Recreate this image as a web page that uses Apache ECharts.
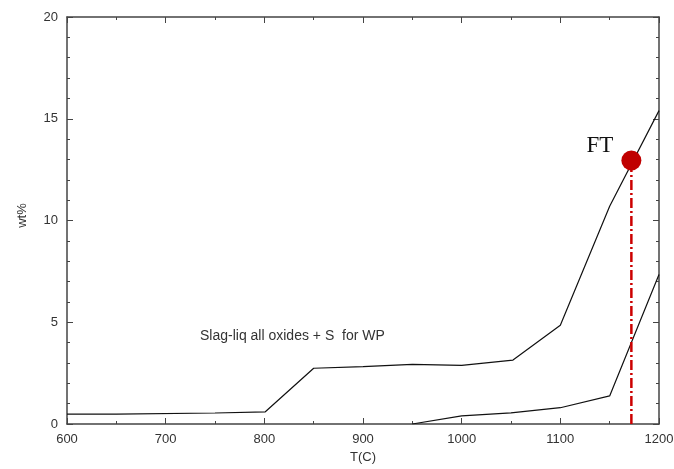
<!DOCTYPE html>
<html>
<head>
<meta charset="utf-8">
<script src="https://cdn.jsdelivr.net/npm/echarts@6/dist/echarts.min.js"></script>
<style>html,body{margin:0;padding:0;background:#fff}#c{width:674px;height:469px}</style>
</head>
<body>
<div id="c"></div>
<script>
const upperT = [600, 650, 650, 750, 750, 801, 850, 900, 950, 1000, 1052, 1100, 1150, 1200];
const upperWt = [0.49, 0.49, 0.54, 0.54, 0.6, 0.6, 2.74, 2.82, 2.93, 2.88, 3.14, 4.85, 10.7, 15.4];
const lowerT = [950, 1000, 1050, 1100, 1150, 1200];
const lowerWt = [0.0, 0.4, 0.55, 0.8, 1.38, 7.35];
const ftPoint = [1172, 12.95];
const xTicks = [600, 700, 800, 900, 1000, 1100, 1200];
const yTicks = [0, 5, 10, 15, 20];

const chart = echarts.init(document.getElementById('c'));
const axisCol = '#444';
const baseX = {
  type: 'value', min: 600, max: 1200, interval: 100,
  axisLine: {show: true, onZero: false, lineStyle: {color: axisCol, width: 1.5}},
  axisTick: {show: true, inside: true, length: 6, lineStyle: {color: axisCol}},
  minorTick: {show: true, splitNumber: 2, length: 3, lineStyle: {color: axisCol}},
  splitLine: {show: false}
};
const baseY = {
  type: 'value', min: 0, max: 20, interval: 5,
  axisLine: {show: true, onZero: false, lineStyle: {color: axisCol, width: 1.5}},
  axisTick: {show: true, inside: true, length: 6, lineStyle: {color: axisCol}},
  minorTick: {show: true, splitNumber: 5, length: 3, lineStyle: {color: axisCol}},
  splitLine: {show: false}
};
chart.setOption({
  animation: false,
  backgroundColor: '#fff',
  grid: {left: 67, right: 15, top: 17, bottom: 45, containLabel: false, outerBoundsMode: 'none'},
  xAxis: [
    Object.assign({}, baseX, {position: 'bottom',
      name: 'T(C)', nameLocation: 'middle', nameGap: 25,
      nameTextStyle: {fontFamily: 'Liberation Sans', fontSize: 13, color: '#333'},
      axisLabel: {fontFamily: 'Liberation Sans', fontSize: 13, color: '#333', margin: 9,
        formatter: v => xTicks.includes(v) ? String(v) : ''}}),
    Object.assign({}, baseX, {position: 'top', axisLabel: {show: false}})
  ],
  yAxis: [
    Object.assign({}, baseY, {position: 'left',
      name: 'wt%', nameLocation: 'middle', nameGap: 38, nameRotate: 90,
      nameTextStyle: {fontFamily: 'Liberation Sans', fontSize: 13, color: '#333', padding: [0, 0, 0, 10]},
      axisLabel: {fontFamily: 'Liberation Sans', fontSize: 13, color: '#333', margin: 9,
        formatter: v => yTicks.includes(v) ? String(v) : ''}}),
    Object.assign({}, baseY, {position: 'right', axisLabel: {show: false}})
  ],
  series: [
    {type: 'line', symbol: 'none', data: upperT.map((t, i) => [t, upperWt[i]]),
      lineStyle: {color: '#111', width: 1.2}, z: 3},
    {type: 'line', symbol: 'none', data: lowerT.map((t, i) => [t, lowerWt[i]]),
      lineStyle: {color: '#111', width: 1.2}, z: 3},
    {type: 'line', symbol: 'none', data: [[ftPoint[0], 0], ftPoint],
      lineStyle: {color: '#cc0000', width: 2.5, type: [10, 3, 2, 3]}, z: 4},
    {type: 'scatter', data: [ftPoint], symbolSize: 20,
      itemStyle: {color: '#c00000', opacity: 1}, z: 5,
      label: {show: true, formatter: 'FT', position: 'left', distance: 8, offset: [0, -15],
        fontFamily: 'Liberation Serif', fontSize: 23, color: '#111'}}
  ],
  graphic: [
    {type: 'text', left: 200, top: 329,
      style: {text: 'Slag-liq all oxides + S  for WP', font: '14px "Liberation Sans"', fill: '#333'}}
  ]
});
</script>
</body>
</html>
